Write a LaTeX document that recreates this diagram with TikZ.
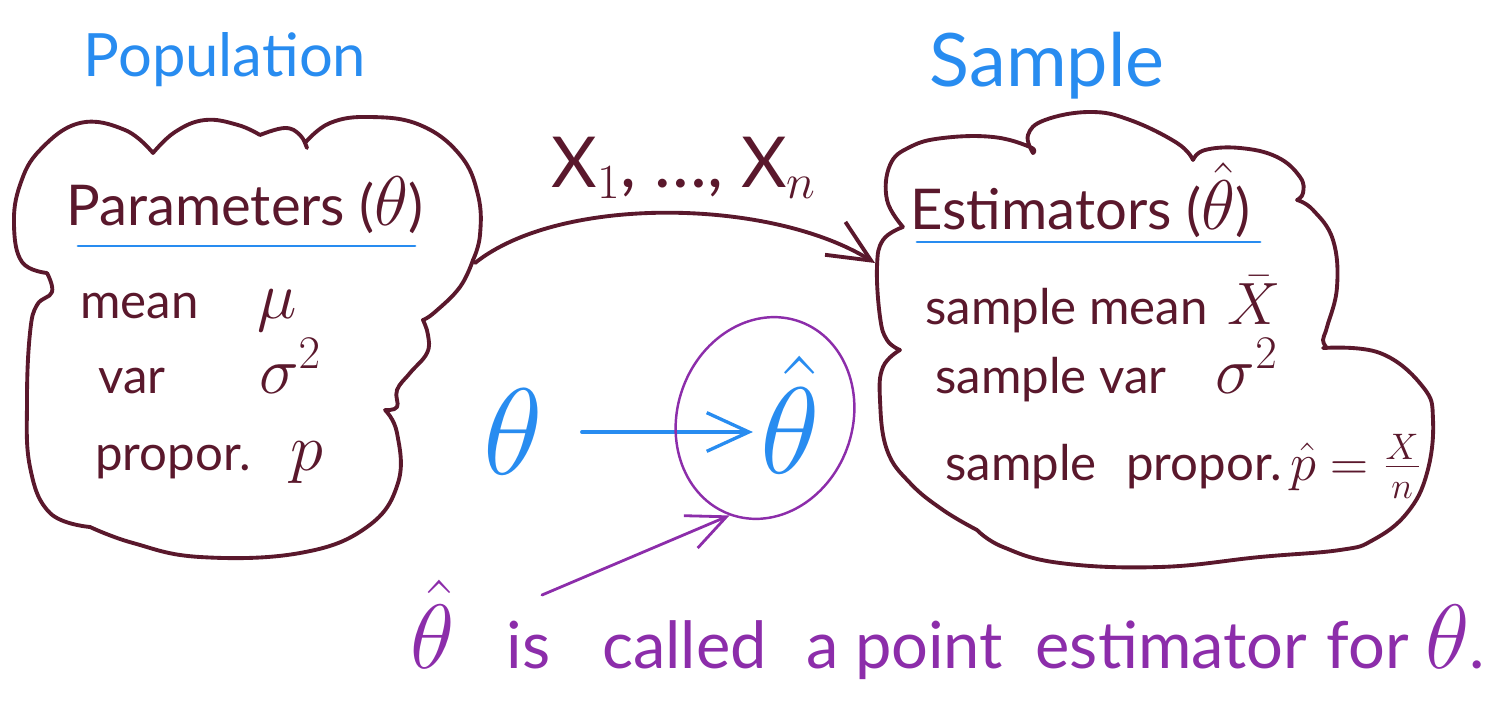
\RequirePackage{fix-cm}
\documentclass[tikz,border=0pt]{standalone}
\usepackage{fontspec}
\setmainfont{Lato}
\usetikzlibrary{arrows.meta,shapes.geometric}
\definecolor{inkred}{RGB}{90,24,44}
\definecolor{inkblue}{RGB}{40,140,240}
\definecolor{inkpurple}{RGB}{140,45,170}
\newcommand{\hw}[2][38]{{\fontsize{#1}{#1}\selectfont$#2$}}

\begin{document}
\begin{tikzpicture}[x=0.02cm,y=-0.02cm,line cap=round,line join=round,
  cloud/.style={draw=inkred,line width=2.2pt},
  uline/.style={draw=inkblue,line width=1.7pt},
  title/.style={inkblue,font=\fontsize{34}{40}\selectfont},
  head/.style={inkred,anchor=base west,inner sep=0pt,font=\fontsize{32}{36}\selectfont},
  item/.style={inkred,anchor=base west,inner sep=0pt,font=\fontsize{28}{32}\selectfont},
  note/.style={inkpurple,anchor=base west,inner sep=0pt,font=\fontsize{37}{40}\selectfont}]
  \useasboundingbox (0,0) rectangle (1507,709);
  %% titles
  \node[title] (pop) at (225,60) {Population};
  \node[title,font=\fontsize{42}{46}\selectfont] (smp) at (1047,66) {Sample};
  %% population cloud
  \draw[cloud] plot[smooth,tension=0.7] coordinates {(47,273) (22,262) (14,225) (20,185) (40,150) (80,123) (125,130) (153,153)}
    -- plot[smooth,tension=0.7] coordinates {(153,153) (175,132) (205,120) (238,125) (260,135)}
    -- plot[smooth,tension=0.7] coordinates {(260,135) (285,128) (300,135) (307,148)}
    -- plot[smooth,tension=0.7] coordinates {(305,143) (330,123) (370,117) (420,125) (460,155) (478,195) (480,235) (473,260)}
    -- plot[smooth,tension=0.7] coordinates {(473,260) (460,287) (435,312) (423,320)}
    -- plot[smooth,tension=0.7] coordinates {(423,320) (428,335) (427,353) (410,373) (397,390) (397,407) (385,410)}
    -- plot[smooth,tension=0.7] coordinates {(385,410) (397,433) (398,483) (367,527) (300,553) (200,557) (133,543) (90,527)}
    -- plot[smooth,tension=0.7] coordinates {(90,527) (50,513) (30,467) (27,400) (30,333) (37,305) (52,292) (47,273)};
  %% sample cloud
  \draw[cloud] plot[smooth,tension=0.7] coordinates {(903,227) (887,200) (890,165) (910,147) (943,138) (993,137) (1030,147) (1033,153)}
    -- plot[smooth,tension=0.7] coordinates {(1033,153) (1028,135) (1045,120) (1090,112) (1130,120) (1177,143) (1193,160)}
    -- plot[smooth,tension=0.7] coordinates {(1193,160) (1205,150) (1240,148) (1277,157) (1300,177) (1303,193) (1297,200)}
    -- plot[smooth,tension=0.7] coordinates {(1297,200) (1313,210) (1333,240) (1337,287) (1327,327) (1323,340) (1327,348)}
    -- plot[smooth,tension=0.7] coordinates {(1323,348) (1380,353) (1423,387) (1433,420) (1427,473) (1407,513) (1373,540) (1340,550) (1260,557) (1160,567) (1060,563) (1003,547) (977,530)}
    -- plot[smooth,tension=0.7] coordinates {(977,530) (943,510) (910,483) (887,450) (880,400) (883,367) (900,350)}
    -- plot[smooth,tension=0.7] coordinates {(900,350) (887,340) (880,317) (877,267) (883,240) (903,227)};
  %% headings and lists
  \node[head] (parm) at (66,226) {Parameters (\hw[40]{\theta})};
  \draw[uline] (78,246) -- (415,246);
  \node[item] (mean) at (80,318) {mean\hspace{1.2em}\hw{\mu}};
  \node[item] (var) at (98,393) {var\hspace{1.9em}\hw{\sigma^2}};
  \node[item] (prop) at (95,470) {propor.\hspace{0.8em}\hw{p}};
  \node[head] (est) at (910,230) {Estimators (\hw[40]{\hat\theta})};
  \draw[uline] (917,242) -- (1260,242);
  \node[item] (smean) at (925,325) {sample mean\hspace{0.4em}\hw[34]{\bar{X}}};
  \node[item] (svar) at (935,393) {sample var\hspace{1em}\hw{\sigma^2}};
  \node[item] (sprop) at (945,480) {sample\hspace{0.6em}propor.\hw[30]{\,\hat{p}=\frac{X}{n}}};
  %% sampling arrow
  \coordinate (popR) at (475,263);
  \coordinate (smpL) at (875,263);
  \draw[inkred,line width=2.2pt,-{Straight Barb[length=24pt,width=22pt,line width=2.2pt]}]
    (popR) .. controls (560,195) and (770,198) .. (smpL);
  \node[inkred,font=\fontsize{40}{44}\selectfont] (xs) at (684,168) {X$_1$, \dots, X$_n$};
  %% estimate
  \node[inkblue,font=\fontsize{70}{70}\selectfont,inner sep=0pt] (th) at (513,432) {$\theta$};
  \node[inkblue,font=\fontsize{70}{70}\selectfont,inner sep=0pt] (thh) at (790,415) {$\hat\theta$};
  \draw[inkblue,line width=1.9pt,shorten <=22pt,shorten >=4pt,-{Straight Barb[length=24pt,width=22pt,line width=1.9pt]}]
    (th.east) -- (th.east -| thh.west);
  \node[draw=inkpurple,line width=1.4pt,ellipse,minimum width=3.5cm,minimum height=4.1cm,rotate=-20] (ring) at (765,418) {};
  %% caption
  \node[note] (note) at (410,668) {\hw[52]{\hat\theta}\hspace{0.8em}is\hspace{0.8em}called\hspace{0.6em}a point\hspace{0.5em}estimator\hspace{0.3em}for \hw[52]{\theta}.};
  \coordinate (tail) at (542,595);
  \draw[inkpurple,line width=1.6pt,-{Straight Barb[length=22pt,width=20pt,line width=1.6pt]}]
    (tail) -- (ring.south);
\end{tikzpicture}
\end{document}
